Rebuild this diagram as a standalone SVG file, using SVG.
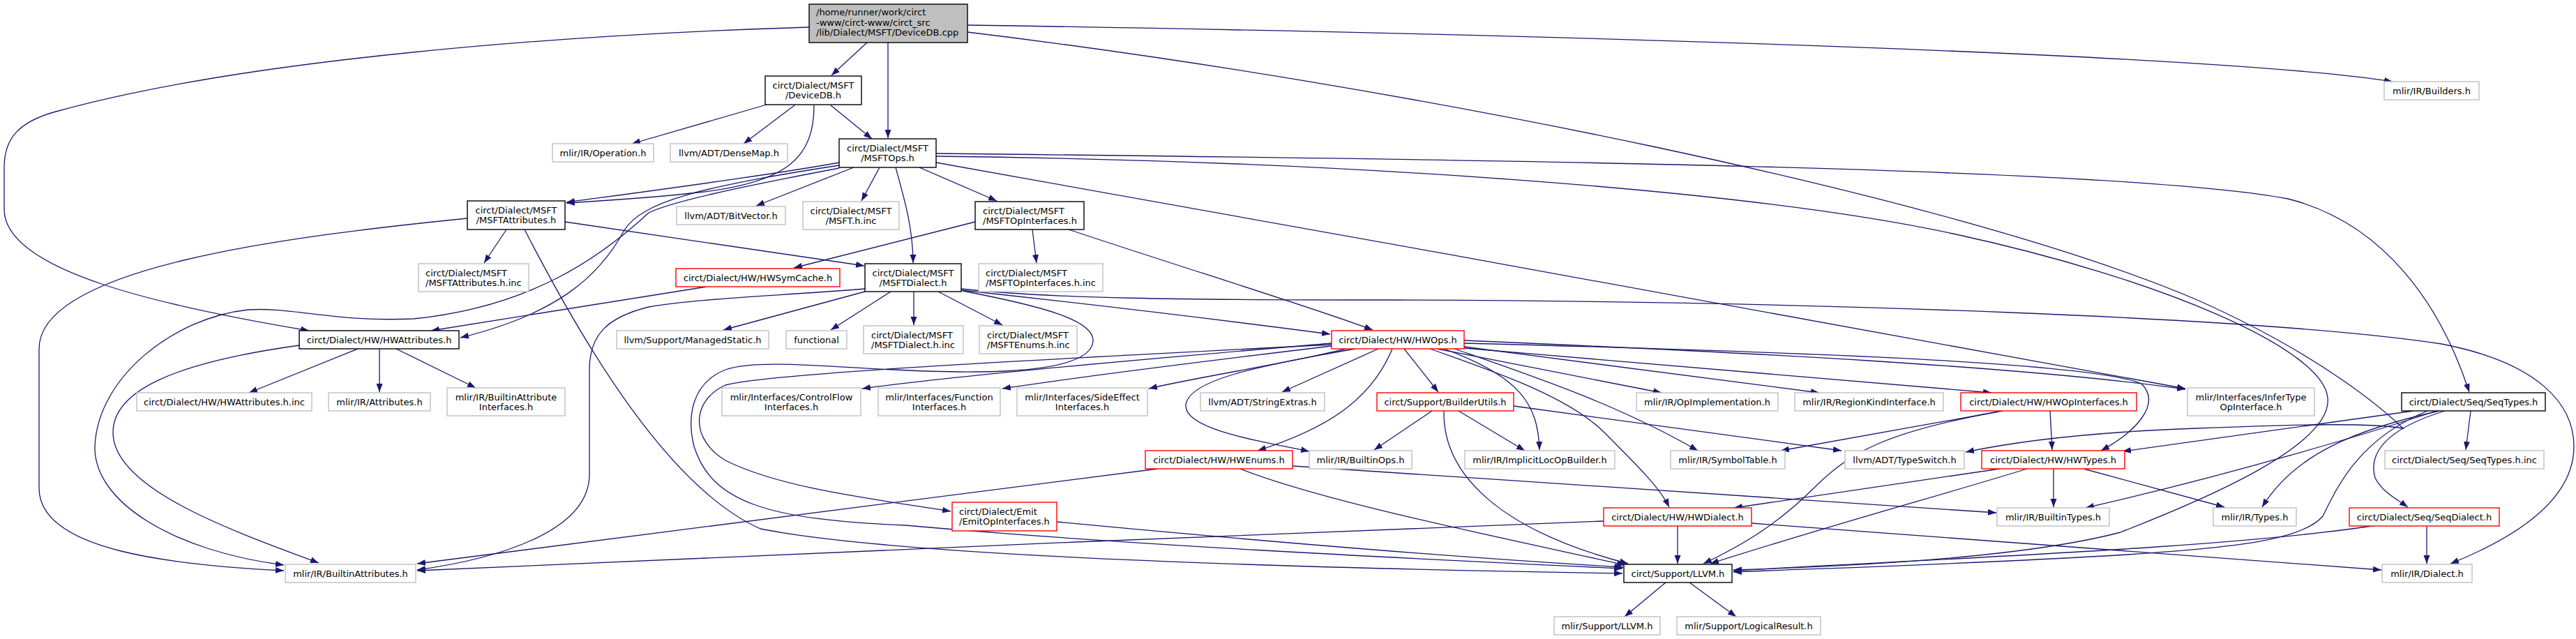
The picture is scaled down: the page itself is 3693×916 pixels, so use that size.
<svg xmlns="http://www.w3.org/2000/svg" width="3693" height="916" viewBox="0 0 3693 916">
<style>
.e{fill:none;stroke:#191970;stroke-width:1.3;marker-end:url(#ah)}
rect{fill:#fff;stroke-width:1.4}
.b rect{stroke:#000}
.g rect{stroke:#bfbfbf}
.r rect{stroke:#ff0000}
.root rect{fill:#bfbfbf;stroke:#000}
text{font-family:"DejaVu Sans",sans-serif;font-size:13px;fill:#000}
.c{text-anchor:middle}
</style>
<defs>
<marker id="ah" viewBox="0 0 12 10" refX="12" refY="5" markerWidth="12" markerHeight="10" markerUnits="userSpaceOnUse" orient="auto"><path d="M0,0.5 L12,5 L0,9.5 z" fill="#191970"/></marker>
</defs>
<rect x="0" y="0" width="3693" height="916" style="fill:#fff;stroke:none"/>
<g id="edges">
<path class="e" d="M1243,61 L1192,108"/>
<path class="e" d="M1273,61 L1273,198"/>
<path class="e" d="M1160,39 C 800,50 350,85 80,160 C 25,175 6,200 6,240 L6,300 C 6,390 240,440 443,474"/>
<path class="e" d="M1387,36 C 2300,50 3200,80 3430,117"/>
<path class="e" d="M1387,46 C 2000,120 2800,280 3150,430 C 3330,510 3420,590 3445,614 C 3400,606 3300,608 3150,614 C 2980,620 2880,635 2818,648"/>
<path class="e" d="M1099,150 L906,206"/>
<path class="e" d="M1139,151 L1066,206"/>
<path class="e" d="M1191,151 L1250,199"/>
<path class="e" d="M1167,151 C 1167,225 1130,262 1000,276 C 930,284 860,288 812,291"/>
<path class="e" d="M1203,233 C 1100,252 900,278 812,290"/>
<path class="e" d="M1224,240 L1084,295"/>
<path class="e" d="M1261,240 L1235,288"/>
<path class="e" d="M1284,240 C 1298,290 1309,330 1309,377"/>
<path class="e" d="M1318,240 L1429,288"/>
<path class="e" d="M1342,220 C 2100,228 3050,240 3280,285 C 3420,320 3500,440 3540,562"/>
<path class="e" d="M1342,233 C 1900,330 2700,480 3133,557"/>
<path class="e" d="M1203,237 C 1000,268 920,290 895,330 C 860,395 800,450 660,484"/>
<path class="e" d="M1203,241 C 1050,270 960,290 930,305 C 860,370 760,440 593,457 C 480,462 420,440 356,444 C 250,455 140,540 136,640 C 134,720 250,790 407,810"/>
<path class="e" d="M1342,224 C 1900,230 2500,270 2800,335 C 3100,400 3330,500 3337,570 C 3345,640 3150,720 3040,763 C 2900,800 2650,812 2485,817"/>
<path class="e" d="M726,329 L694,377"/>
<path class="e" d="M810,318 L1239,381"/>
<path class="e" d="M670,313 C 400,340 56,385 56,500 L56,700 C 56,790 250,810 407,818"/>
<path class="e" d="M752,329 C 840,500 960,700 1090,758 C 1300,800 1900,815 2326,822"/>
<path class="e" d="M513,500 L357,563"/>
<path class="e" d="M544,500 L544,562"/>
<path class="e" d="M568,500 L682,556"/>
<path class="e" d="M429,495 C 250,520 162,560 162,620 C 162,700 330,760 457,807"/>
<path class="e" d="M1398,318 L1138,384"/>
<path class="e" d="M1480,329 L1486,377"/>
<path class="e" d="M1532,329 C 1700,385 1880,440 1968,473"/>
<path class="e" d="M1013,411 L618,474"/>
<path class="e" d="M1240,418 L1037,473"/>
<path class="e" d="M1277,418 L1191,473"/>
<path class="e" d="M1310,418 L1310,466"/>
<path class="e" d="M1345,418 L1437,466"/>
<path class="e" d="M1378,416 C 1600,440 1800,465 1907,479"/>
<path class="e" d="M1378,414 C 1500,428 1700,430 2000,430 C 2600,432 3250,455 3500,493 C 3640,520 3690,580 3690,640 C 3690,710 3620,765 3513,808"/>
<path class="e" d="M1240,414 C 1100,425 1000,428 930,440 C 870,455 845,480 845,530 L845,680 C 845,760 720,800 598,817"/>
<path class="e" d="M1380,417 C 1500,440 1570,460 1567,490 C 1563,520 1500,532 1400,533 C 1250,535 1100,510 1040,530 C 990,550 985,600 995,640 C 1020,720 1100,745 1298,753 C 1600,780 2000,800 2326,815"/>
<path class="e" d="M1909,492 C 1700,510 1400,535 1236,557"/>
<path class="e" d="M1909,496 C 1750,515 1550,540 1437,557"/>
<path class="e" d="M1930,500 C 1850,520 1720,540 1647,557"/>
<path class="e" d="M1976,500 L1838,562"/>
<path class="e" d="M1996,500 C 1965,575 1900,615 1803,646"/>
<path class="e" d="M1943,500 C 1800,525 1705,545 1700,580 C 1697,612 1780,628 1877,647"/>
<path class="e" d="M1909,494 C 1500,515 1100,535 1040,552 C 990,575 990,630 1040,660 C 1120,700 1250,715 1363,733"/>
<path class="e" d="M2013,500 L2062,562"/>
<path class="e" d="M2050,500 C 2150,535 2250,570 2300,620 C 2350,670 2380,700 2393,727"/>
<path class="e" d="M2070,500 C 2180,540 2205,580 2207,645"/>
<path class="e" d="M2085,500 C 2200,540 2320,580 2434,646"/>
<path class="e" d="M2060,500 L2382,563"/>
<path class="e" d="M2099,497 L2608,563"/>
<path class="e" d="M2099,499 C 2400,525 2700,550 2855,563"/>
<path class="e" d="M2099,488 C 2500,505 2900,525 3133,558"/>
<path class="e" d="M2099,492 C 2600,505 3000,520 3070,550 C 3100,580 3060,620 3012,646"/>
<path class="e" d="M2053,589 L1970,645"/>
<path class="e" d="M2091,589 L2186,646"/>
<path class="e" d="M2070,589 C 2068,680 2150,760 2334,808"/>
<path class="e" d="M2170,582 L2640,646"/>
<path class="e" d="M2871,589 L2553,646"/>
<path class="e" d="M2865,590 C 2700,620 2650,650 2600,700 C 2540,760 2480,790 2442,808"/>
<path class="e" d="M2939,589 L2942,645"/>
<path class="e" d="M2867,672 L2486,728"/>
<path class="e" d="M2906,672 C 2800,705 2600,760 2452,808"/>
<path class="e" d="M2944,672 L2944,727"/>
<path class="e" d="M2987,672 L3189,727"/>
<path class="e" d="M3460,589 L3043,647"/>
<path class="e" d="M3493,589 C 3400,620 3200,680 2990,728"/>
<path class="e" d="M3497,589 C 3380,615 3290,650 3243,727"/>
<path class="e" d="M3480,589 C 3380,630 3350,700 3330,740 C 3300,775 3200,785 3050,795 C 2800,810 2600,815 2485,820"/>
<path class="e" d="M3505,589 C 3420,615 3395,650 3405,685 C 3415,705 3435,715 3452,727"/>
<path class="e" d="M3542,589 L3535,645"/>
<path class="e" d="M1660,672 L598,808"/>
<path class="e" d="M1778,672 C 1900,720 2150,770 2330,810"/>
<path class="e" d="M1853,668 C 2200,690 2600,720 2862,735"/>
<path class="e" d="M1515,748 C 1800,775 2100,800 2327,813"/>
<path class="e" d="M2299,747 C 1800,765 1000,800 598,818"/>
<path class="e" d="M2405,753 L2405,808"/>
<path class="e" d="M2511,750 C 2800,770 3100,795 3414,817"/>
<path class="e" d="M3479,753 L3479,808"/>
<path class="e" d="M3407,753 C 3200,785 2800,800 2485,818"/>
<path class="e" d="M2388,835 L2329,884"/>
<path class="e" d="M2422,835 L2489,884"/>
</g>
<g id="n_root" class="root"><rect x="1160" y="6" width="227" height="55"/><text x="1170" y="22">/home/runner/work/circt</text><text x="1170" y="36.5">-www/circt-www/circt_src</text><text x="1170" y="51">/lib/Dialect/MSFT/DeviceDB.cpp</text></g>
<g id="n_devicedb" class="b"><rect x="1097" y="109" width="138" height="41"/><text class="c" x="1166" y="126.5">circt/Dialect/MSFT</text><text class="c" x="1166" y="141">/DeviceDB.h</text></g>
<g id="n_builders" class="g"><rect x="3418" y="117" width="136" height="26"/><text class="c" x="3486" y="134.5">mlir/IR/Builders.h</text></g>
<g id="n_operation" class="g"><rect x="792" y="206" width="145" height="26"/><text class="c" x="864.5" y="223.5">mlir/IR/Operation.h</text></g>
<g id="n_densemap" class="g"><rect x="961" y="206" width="168" height="26"/><text class="c" x="1045" y="223.5">llvm/ADT/DenseMap.h</text></g>
<g id="n_msftops" class="b"><rect x="1203" y="199" width="139" height="41"/><text class="c" x="1272.5" y="216.5">circt/Dialect/MSFT</text><text class="c" x="1272.5" y="231">/MSFTOps.h</text></g>
<g id="n_msftattr" class="b"><rect x="670" y="288" width="140" height="41"/><text class="c" x="740" y="305.5">circt/Dialect/MSFT</text><text class="c" x="740" y="320">/MSFTAttributes.h</text></g>
<g id="n_bitvector" class="g"><rect x="970" y="296" width="156" height="26"/><text class="c" x="1048" y="313.5">llvm/ADT/BitVector.h</text></g>
<g id="n_msfthinc" class="g"><rect x="1151" y="289" width="138" height="40"/><text class="c" x="1220" y="306.5">circt/Dialect/MSFT</text><text class="c" x="1220" y="321">/MSFT.h.inc</text></g>
<g id="n_msftopif" class="b"><rect x="1398" y="289" width="156" height="40"/><text x="1409" y="306.5">circt/Dialect/MSFT</text><text x="1409" y="321">/MSFTOpInterfaces.h</text></g>
<g id="n_msftattrinc" class="g"><rect x="600" y="378" width="158" height="40"/><text x="610" y="395.5">circt/Dialect/MSFT</text><text x="610" y="410">/MSFTAttributes.h.inc</text></g>
<g id="n_hwsymcache" class="r"><rect x="969" y="385" width="235" height="26"/><text class="c" x="1086.5" y="402.5">circt/Dialect/HW/HWSymCache.h</text></g>
<g id="n_msftdialect" class="b"><rect x="1240" y="378" width="138" height="40"/><text class="c" x="1309" y="395.5">circt/Dialect/MSFT</text><text class="c" x="1309" y="410">/MSFTDialect.h</text></g>
<g id="n_msftopifinc" class="g"><rect x="1403" y="378" width="178" height="40"/><text x="1413" y="395.5">circt/Dialect/MSFT</text><text x="1413" y="410">/MSFTOpInterfaces.h.inc</text></g>
<g id="n_hwattr" class="b"><rect x="429" y="474" width="229" height="26"/><text class="c" x="543.5" y="491.5">circt/Dialect/HW/HWAttributes.h</text></g>
<g id="n_managedstatic" class="g"><rect x="884" y="474" width="218" height="26"/><text class="c" x="993" y="491.5">llvm/Support/ManagedStatic.h</text></g>
<g id="n_functional" class="g"><rect x="1127" y="474" width="87" height="26"/><text class="c" x="1170.5" y="491.5">functional</text></g>
<g id="n_msftdialectinc" class="g"><rect x="1238" y="467" width="143" height="40"/><text x="1249" y="484.5">circt/Dialect/MSFT</text><text x="1249" y="499">/MSFTDialect.h.inc</text></g>
<g id="n_msftenumsinc" class="g"><rect x="1404" y="467" width="140" height="40"/><text x="1415" y="484.5">circt/Dialect/MSFT</text><text x="1415" y="499">/MSFTEnums.h.inc</text></g>
<g id="n_hwops" class="r"><rect x="1909" y="474" width="190" height="26"/><text class="c" x="2004" y="491.5">circt/Dialect/HW/HWOps.h</text></g>
<g id="n_hwattrinc" class="g"><rect x="196" y="563" width="251" height="26"/><text class="c" x="321.5" y="580.5">circt/Dialect/HW/HWAttributes.h.inc</text></g>
<g id="n_attributes" class="g"><rect x="471" y="563" width="146" height="26"/><text class="c" x="544" y="580.5">mlir/IR/Attributes.h</text></g>
<g id="n_builtinattrif" class="g"><rect x="641" y="556" width="169" height="40"/><text class="c" x="725.5" y="573.5">mlir/IR/BuiltinAttribute</text><text class="c" x="725.5" y="588">Interfaces.h</text></g>
<g id="n_controlflow" class="g"><rect x="1035" y="556" width="199" height="40"/><text class="c" x="1134.5" y="573.5">mlir/Interfaces/ControlFlow</text><text class="c" x="1134.5" y="588">Interfaces.h</text></g>
<g id="n_function" class="g"><rect x="1259" y="556" width="175" height="40"/><text class="c" x="1346.5" y="573.5">mlir/Interfaces/Function</text><text class="c" x="1346.5" y="588">Interfaces.h</text></g>
<g id="n_sideeffect" class="g"><rect x="1458" y="556" width="187" height="40"/><text class="c" x="1551.5" y="573.5">mlir/Interfaces/SideEffect</text><text class="c" x="1551.5" y="588">Interfaces.h</text></g>
<g id="n_stringextras" class="g"><rect x="1721" y="563" width="178" height="26"/><text class="c" x="1810" y="580.5">llvm/ADT/StringExtras.h</text></g>
<g id="n_builderutils" class="r"><rect x="1974" y="563" width="196" height="26"/><text class="c" x="2072" y="580.5">circt/Support/BuilderUtils.h</text></g>
<g id="n_opimpl" class="g"><rect x="2346" y="563" width="203" height="26"/><text class="c" x="2447.5" y="580.5">mlir/IR/OpImplementation.h</text></g>
<g id="n_regionkind" class="g"><rect x="2573" y="563" width="213" height="26"/><text class="c" x="2679.5" y="580.5">mlir/IR/RegionKindInterface.h</text></g>
<g id="n_hwopif" class="r"><rect x="2811" y="563" width="252" height="26"/><text class="c" x="2937" y="580.5">circt/Dialect/HW/HWOpInterfaces.h</text></g>
<g id="n_infertype" class="g"><rect x="3136" y="556" width="182" height="40"/><text class="c" x="3227" y="573.5">mlir/Interfaces/InferType</text><text class="c" x="3227" y="588">OpInterface.h</text></g>
<g id="n_seqtypes" class="b"><rect x="3443" y="563" width="206" height="26"/><text class="c" x="3546" y="580.5">circt/Dialect/Seq/SeqTypes.h</text></g>
<g id="n_hwenums" class="r"><rect x="1642" y="646" width="211" height="26"/><text class="c" x="1747.5" y="663.5">circt/Dialect/HW/HWEnums.h</text></g>
<g id="n_builtinops" class="g"><rect x="1877" y="646" width="147" height="26"/><text class="c" x="1950.5" y="663.5">mlir/IR/BuiltinOps.h</text></g>
<g id="n_implicitloc" class="g"><rect x="2100" y="646" width="215" height="26"/><text class="c" x="2207.5" y="663.5">mlir/IR/ImplicitLocOpBuilder.h</text></g>
<g id="n_symboltable" class="g"><rect x="2395" y="646" width="164" height="26"/><text class="c" x="2477" y="663.5">mlir/IR/SymbolTable.h</text></g>
<g id="n_typeswitch" class="g"><rect x="2645" y="646" width="171" height="26"/><text class="c" x="2730.5" y="663.5">llvm/ADT/TypeSwitch.h</text></g>
<g id="n_hwtypes" class="r"><rect x="2841" y="646" width="205" height="26"/><text class="c" x="2943.5" y="663.5">circt/Dialect/HW/HWTypes.h</text></g>
<g id="n_seqtypesinc" class="g"><rect x="3419" y="646" width="228" height="26"/><text class="c" x="3533" y="663.5">circt/Dialect/Seq/SeqTypes.h.inc</text></g>
<g id="n_emitopif" class="r"><rect x="1365" y="720" width="150" height="41"/><text x="1375" y="737.5">circt/Dialect/Emit</text><text x="1375" y="752">/EmitOpInterfaces.h</text></g>
<g id="n_hwdialect" class="r"><rect x="2299" y="728" width="212" height="26"/><text class="c" x="2405" y="745.5">circt/Dialect/HW/HWDialect.h</text></g>
<g id="n_builtintypes" class="g"><rect x="2863" y="728" width="161" height="26"/><text class="c" x="2943.5" y="745.5">mlir/IR/BuiltinTypes.h</text></g>
<g id="n_types" class="g"><rect x="3173" y="728" width="119" height="26"/><text class="c" x="3232.5" y="745.5">mlir/IR/Types.h</text></g>
<g id="n_seqdialect" class="r"><rect x="3368" y="728" width="215" height="26"/><text class="c" x="3475.5" y="745.5">circt/Dialect/Seq/SeqDialect.h</text></g>
<g id="n_builtinattrs" class="g"><rect x="409" y="809" width="187" height="26"/><text class="c" x="502.5" y="826.5">mlir/IR/BuiltinAttributes.h</text></g>
<g id="n_llvm" class="b"><rect x="2328" y="809" width="155" height="26"/><text class="c" x="2405.5" y="826.5">circt/Support/LLVM.h</text></g>
<g id="n_dialect" class="g"><rect x="3415" y="809" width="129" height="26"/><text class="c" x="3479.5" y="826.5">mlir/IR/Dialect.h</text></g>
<g id="n_mlirllvm" class="g"><rect x="2228" y="884" width="152" height="26"/><text class="c" x="2304" y="901.5">mlir/Support/LLVM.h</text></g>
<g id="n_logicalresult" class="g"><rect x="2404" y="884" width="206" height="26"/><text class="c" x="2507" y="901.5">mlir/Support/LogicalResult.h</text></g>
</svg>
